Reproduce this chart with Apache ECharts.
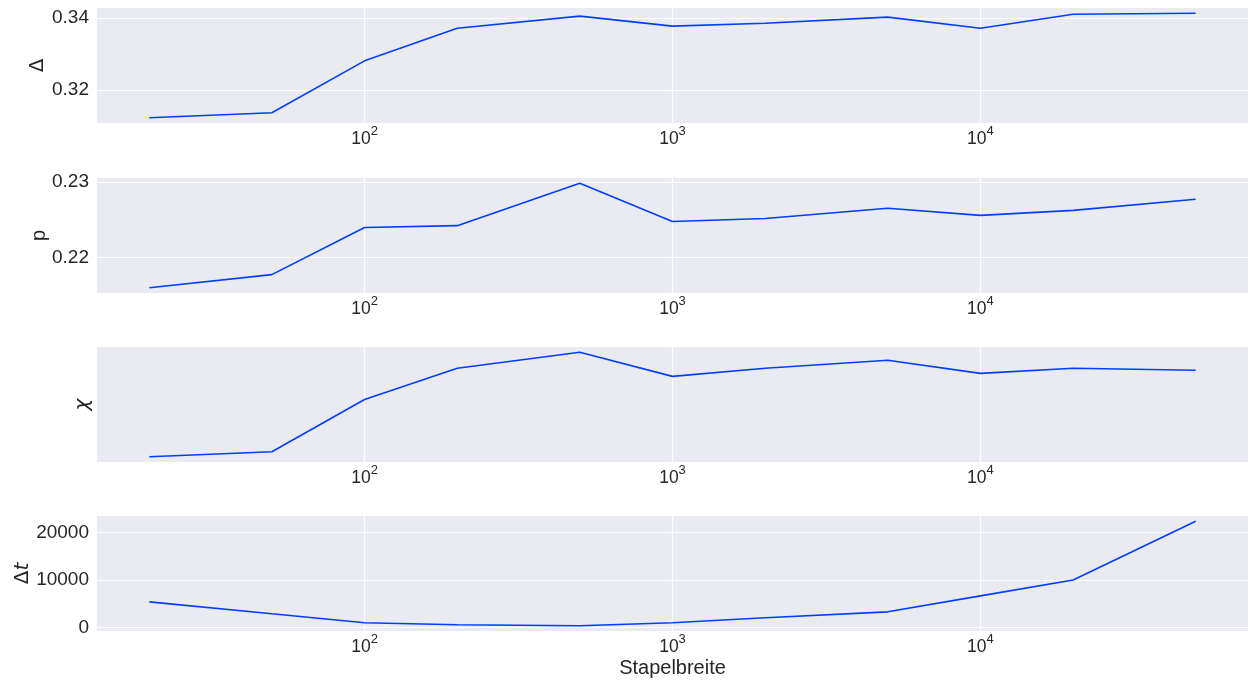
<!DOCTYPE html>
<html>
<head>
<meta charset="utf-8">
<script src="https://cdn.jsdelivr.net/npm/echarts@6/dist/echarts.min.js"></script>
<style>
html,body{margin:0;padding:0;background:#fff;}
#chart{width:1249px;height:689px;}
</style>
</head>
<body>
<div id="chart"></div>
<script>
// ---- data ----
const stapelbreite = [20, 50, 100, 200, 500, 1000, 2000, 5000, 10000, 20000, 50000];
const deltaVals = [0.3122, 0.3136, 0.3281, 0.3372, 0.3406, 0.3378, 0.3386, 0.3403, 0.3372, 0.3411, 0.3414];
const pVals = [0.21596, 0.2177, 0.22396, 0.2242, 0.22983, 0.22476, 0.22516, 0.2265, 0.22556, 0.22623, 0.2277];
const chiVals = [1.00, 1.05, 1.57, 1.88, 2.04, 1.80, 1.88, 1.96, 1.83, 1.88, 1.86];
const dtVals = [5388, 2872, 985, 566, 356, 985, 2034, 3291, 6646, 10000, 22369];
const deltaTicks = [0.32, 0.34];
const pTicks = [0.22, 0.23];
const dtTicks = [0, 10000, 20000];

// ---- layout/style ----
const TXT = '#262626';
const BG = '#EAEAF2';
const LINE = '#023EFF';
const FONT = 'Liberation Sans';
const tops = [8, 178, 347, 516];
const H = 115;

function pad(arr) {
  const mn = Math.min(...arr), mx = Math.max(...arr);
  const m = 0.05 * (mx - mn);
  return [mn - m, mx + m];
}
const lx = pad(stapelbreite.map(v => Math.log10(v)));
const xMin = Math.pow(10, lx[0]), xMax = Math.pow(10, lx[1]);

const panels = [
  {vals: deltaVals, ticks: deltaTicks, name: 'Δ', gap: 49, fmt: v => v.toFixed(2)},
  {vals: pVals, ticks: pTicks, name: 'p', gap: 48, fmt: v => v.toFixed(2)},
  {vals: chiVals, ticks: null, name: '{c|χ}', gap: 4, fmt: v => ''},
  {vals: dtVals, ticks: dtTicks, name: '{d|Δ}{t|t}', gap: 64, fmt: v => String(Math.round(v))}
];

const grids = [], xAxes = [], yAxes = [], series = [];
panels.forEach((pn, i) => {
  grids.push({left: 97, right: 1, top: tops[i], height: H, show: true, backgroundColor: BG, borderWidth: 0,
    containLabel: false, outerBoundsMode: 'none'});
  xAxes.push({
    type: 'log', gridIndex: i, min: xMin, max: xMax, logBase: 10,
    axisLine: {show: false}, axisTick: {show: false},
    splitLine: {show: true, showMinLine: false, showMaxLine: false, lineStyle: {color: '#ffffff', width: 1.2}},
    axisLabel: {
      show: true, margin: 2, showMinLabel: false, showMaxLabel: false,
      formatter: v => {
        const l = Math.log10(v);
        const e = Math.round(l);
        if (Math.abs(l - e) > 1e-6) return '';
        return '{b|10}{s|' + e + '}';
      },
      rich: {
        b: {fontSize: 17.5, fontFamily: FONT, color: TXT, lineHeight: 23, verticalAlign: 'bottom'},
        s: {fontSize: 13, fontFamily: FONT, color: TXT, verticalAlign: 'top', lineHeight: 13}
      }
    },
    name: i === 3 ? 'Stapelbreite' : '',
    nameLocation: 'middle', nameGap: 27, nameMoveOverlap: false,
    nameTextStyle: {fontSize: 20, fontFamily: FONT, color: TXT}
  });
  const ext = pad(pn.vals);
  const ya = {
    type: 'value', gridIndex: i, min: ext[0], max: ext[1],
    axisLine: {show: false},
    axisTick: {show: false},
    splitLine: {show: !!pn.ticks, lineStyle: {color: '#ffffff', width: 1.2}},
    axisLabel: {show: !!pn.ticks, margin: 8, color: TXT, fontSize: 19, fontFamily: FONT, formatter: pn.fmt},
    name: pn.name, nameLocation: 'middle', nameRotate: 90,
    nameGap: pn.gap, nameMoveOverlap: false,
    nameTextStyle: {fontSize: 20, fontFamily: 'DejaVu Sans', color: TXT,
      rich: {
        c: {fontSize: 20, fontFamily: 'DejaVu Sans', fontStyle: 'italic', color: TXT},
        d: {fontSize: 20, fontFamily: 'DejaVu Sans', color: TXT},
        t: {fontSize: 20, fontFamily: 'DejaVu Sans', fontStyle: 'italic', color: TXT}
      }}
  };
  if (i === 1) ya.nameTextStyle.fontFamily = FONT;
  if (pn.ticks) {
    ya.axisTick.customValues = pn.ticks;
    ya.axisLabel.customValues = pn.ticks;
  }
  yAxes.push(ya);
  series.push({
    type: 'line', xAxisIndex: i, yAxisIndex: i,
    data: stapelbreite.map((x, k) => [x, pn.vals[k]]),
    showSymbol: false, symbol: 'none',
    lineStyle: {color: LINE, width: 1.6}, itemStyle: {color: LINE},
    silent: true
  });
});

const chart = echarts.init(document.getElementById('chart'), null, {renderer: 'canvas'});
chart.setOption({
  animation: false,
  backgroundColor: '#ffffff',
  textStyle: {fontFamily: FONT},
  grid: grids, xAxis: xAxes, yAxis: yAxes, series: series
});
</script>
</body>
</html>
